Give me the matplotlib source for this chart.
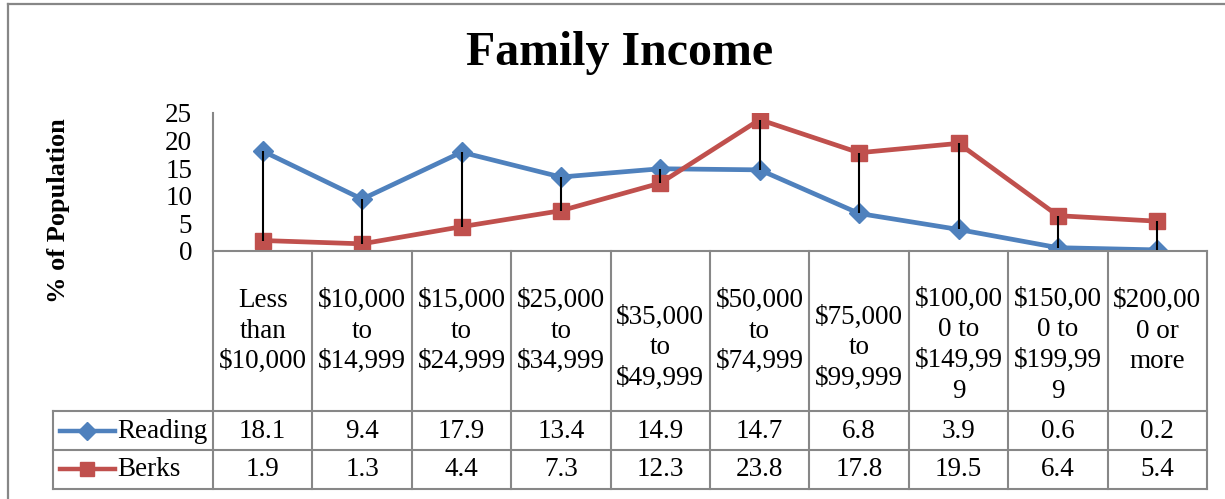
import matplotlib
matplotlib.use("Agg")
import matplotlib.pyplot as plt
from matplotlib.lines import Line2D
import numpy as np

plt.rcParams['font.family'] = ['Liberation Serif', 'DejaVu Serif']

# data
categories = ["Less\nthan\n$10,000", "$10,000\nto\n$14,999", "$15,000\nto\n$24,999",
              "$25,000\nto\n$34,999", "$35,000\nto\n$49,999", "$50,000\nto\n$74,999",
              "$75,000\nto\n$99,999", "$100,00\n0 to\n$149,99\n9", "$150,00\n0 to\n$199,99\n9",
              "$200,00\n0 or\nmore"]
reading = [18.1, 9.4, 17.9, 13.4, 14.9, 14.7, 6.8, 3.9, 0.6, 0.2]
berks = [1.9, 1.3, 4.4, 7.3, 12.3, 23.8, 17.8, 19.5, 6.4, 5.4]
series_names = ["Reading", "Berks"]

W, H = 1225, 499
fig = plt.figure(figsize=(W / 100, H / 100), dpi=100)
FS = 19.5

# pixel helpers
def fx(px):
    return px / W

def fy(py):
    return (H - py) / H

ax_l, ax_r, ax_t, ax_b = 213, 1207, 113, 251
ax = fig.add_axes([fx(ax_l), fy(ax_b), fx(ax_r) - fx(ax_l), fy(ax_t) - fy(ax_b)])

blue = "#4F81BD"
red = "#C0504D"
grid = "#878787"

x = np.arange(len(categories))
lo = np.minimum(reading, berks)
hi = np.maximum(reading, berks)
ax.vlines(x, lo, hi, color="black", lw=1.5, zorder=3)
ax.plot(x, reading, color=blue, lw=3.4, marker="D", markersize=10, zorder=2)
ax.plot(x, berks, color=red, lw=3.4, marker="s", markersize=11, zorder=2)

ax.set_xlim(-0.5, len(categories) - 0.5)
ax.set_ylim(0, 25)
ax.set_yticks([0, 5, 10, 15, 20, 25])
ax.tick_params(axis="y", length=0, pad=15, labelsize=FS)
ax.set_xticks([])
for s in ["top", "right"]:
    ax.spines[s].set_visible(False)
ax.spines["left"].set_color(grid)
ax.spines["bottom"].set_color(grid)
ax.spines["left"].set_linewidth(1.5)
ax.spines["bottom"].set_linewidth(1.5)

# data table drawn below the axes
def ay(py):
    return -(py - ax_b) / (ax_b - ax_t)

trans = ax.get_xaxis_transform()
col_w = (ax_r - ax_l) / len(categories)
leg_left = -0.5 - (ax_l - 53) / col_w
row_lines = [411, 450, 489]
for py in row_lines:
    ax.add_line(Line2D([leg_left, len(categories) - 0.5], [ay(py), ay(py)], transform=trans,
                       color=grid, lw=1.5, clip_on=False))
for i in range(len(categories) + 1):
    ax.add_line(Line2D([i - 0.5, i - 0.5], [0, ay(489)], transform=trans,
                       color=grid, lw=1.5, clip_on=False))
ax.add_line(Line2D([leg_left, leg_left], [ay(411), ay(489)], transform=trans,
                   color=grid, lw=1.5, clip_on=False))

# header labels
centers = [331, 331, 331, 331, 348, 331, 348, 345, 345, 331]
for i, lab in enumerate(categories):
    ax.text(i, ay(centers[i]), lab, transform=trans, ha="center", va="center",
            fontsize=FS, linespacing=1.3, clip_on=False)

# value rows
for vals, py in [(reading, 431), (berks, 469)]:
    for i, v in enumerate(vals):
        ax.text(i, ay(py), f"{v}", transform=trans, ha="center", va="center",
                fontsize=FS, clip_on=False)

# legend keys
key_x0 = leg_left + (60 - 53) / col_w
key_x1 = leg_left + (115 - 53) / col_w
for name, color, mk, ms, py in [(series_names[0], blue, "D", 9, 431),
                                (series_names[1], red, "s", 10, 469)]:
    ax.add_line(Line2D([key_x0, key_x1], [ay(py), ay(py)], transform=trans,
                       color=color, lw=3.2, clip_on=False))
    ax.add_line(Line2D([(key_x0 + key_x1) / 2], [ay(py)], transform=trans,
                       color=color, marker=mk, markersize=ms, clip_on=False))
    ax.text(leg_left + (117 - 53) / col_w, ay(py), name, transform=trans,
            ha="left", va="center", fontsize=FS, clip_on=False)

# title and y label
fig.text(fx(620), fy(53), "Family Income", ha="center", va="center",
         fontsize=34.5, fontweight="bold")
fig.text(fx(58), fy(211), "% of Population", ha="center", va="center",
         rotation=90, fontsize=19, fontweight="bold")

# chart border (top and left visible)
fig.add_artist(Line2D([fx(8), fx(W)], [fy(4), fy(4)], color=grid, lw=1.6))
fig.add_artist(Line2D([fx(8), fx(8)], [fy(4), fy(H)], color=grid, lw=1.6))

fig.savefig("out.png", dpi=100)
